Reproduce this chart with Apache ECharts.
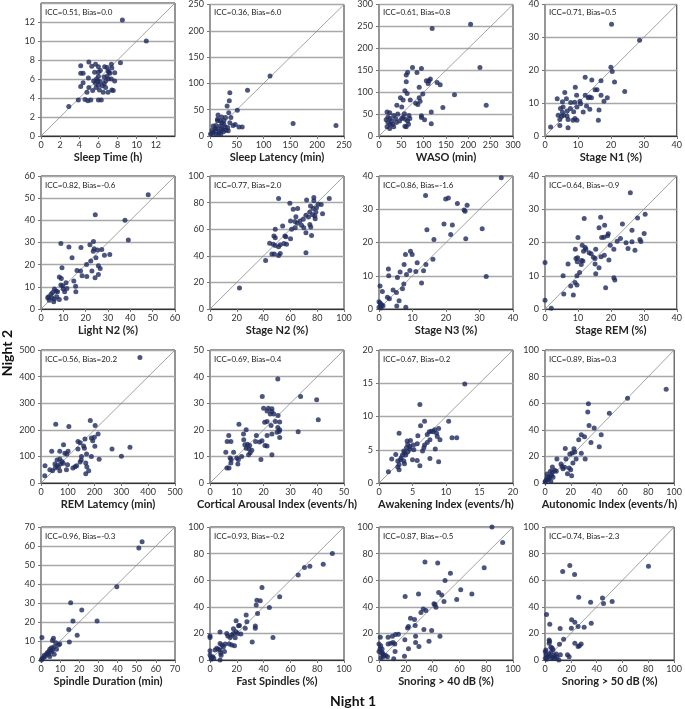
<!DOCTYPE html>
<html>
<head>
<meta charset="utf-8">
<script src="https://cdn.jsdelivr.net/npm/echarts@6/dist/echarts.min.js"></script>
<style>
  html, body { margin: 0; padding: 0; background: #fff; }
  #main { width: 685px; height: 709px; }
</style>
</head>
<body>
<div id="main"></div>
<script>
// night 1 vs night 2, one array of [x, y] per panel
var sleepTime = [[8.5,12.2],[11,10],[2.9,3.1],[3.9,3.8],[4.15,7.4],[4.15,6.6],[4.4,6.6],[4.15,5.2],[4.4,5.6],[4.6,3.85],[4.9,3.7],[5,7.8],[4.95,6.1],[5,5.1],[4.8,4.6],[5.2,3.8],[5.4,4.8],[5.3,7.35],[5.7,7.55],[5.6,6.7],[5.8,6],[5.5,5.8],[5.7,5.55],[5.75,5.1],[6,7.3],[6,6.75],[6,6.3],[5.95,5.8],[6,5.35],[6.2,5.7],[6,3.8],[6.3,3.8],[6.2,6.9],[6.1,4.85],[6.5,4.6],[6.4,5.3],[6.6,5.5],[6.75,5.1],[6.65,7.3],[6.9,7.2],[7,6.85],[7.1,6.7],[6.9,6.3],[7.05,6],[7.35,6],[7.2,6.6],[7.4,7.15],[7.35,7.55],[7.4,4.85],[7,4.6],[7.55,4.8],[7.7,6.65],[7.7,5.8],[8.3,7.7],[6.75,5.8],[6.6,6.2]];
var sleepLatency = [[112,114],[70,87],[37,82],[36,67],[32,57],[51,49],[35,44],[155,24],[235,20],[15,40],[14,32],[22,36],[29,35],[39,35],[37,25],[47,22],[43,20],[54,17],[60,17],[33,16],[30,11],[26,22],[22,25],[19,19],[11,20],[6,19],[4,11],[7.5,8],[12,14],[17,9],[21,14],[25,8],[1,4],[5,5],[11,3],[16,5],[20,4],[24,12],[28,17],[34,10],[19,29],[26,29],[14,29],[10,14]];
var waso = [[119,245],[205,255],[226,156],[240,70],[169,94],[143,65],[117,55],[117,28],[75,156],[64,145],[61,139],[85,145],[95,154],[106,126],[112,126],[115,130],[110,120],[130,122],[137,117],[90,111],[61,124],[58,103],[63,97],[48,87],[54,82],[70,82],[90,87],[92,79],[98,96],[82,75],[87,72],[51,66],[40,70],[57,51],[54,43],[67,47],[59,38],[64,34],[69,40],[66,27],[61,21],[58,22],[95,46],[95,42],[102,37],[18,55],[24,53],[20,43],[16,37],[25,40],[33,47],[37,40],[42,50],[46,34],[39,31],[25,27],[18,21],[24,17],[33,21],[30,27],[51,40],[20,31],[28,34]];
var stageN1 = [[20.2,34],[28.7,29.1],[20,20.9],[20.4,19.6],[12.2,17.9],[14.2,17],[21.1,16.4],[9.2,14.8],[6,13.2],[24.2,13.5],[15.2,14.1],[15.8,14.1],[17,16.8],[17,12.4],[3.7,11.3],[6.5,11.3],[5.3,10.4],[7.8,10.2],[9,10.3],[9.6,12.4],[10.6,10.6],[10.8,9.8],[12.2,12.4],[13.1,11.6],[13.5,11.9],[14.1,11.6],[17.9,10.6],[18.9,11.6],[11.6,7.3],[12.6,9.1],[13.6,8.1],[9.7,8.8],[7.7,8.4],[8.7,7.4],[6.7,7.6],[5.5,8.8],[4.7,8.4],[4,6.3],[5,6],[5.7,6.3],[6.7,6.1],[4.5,5],[7,5],[8.5,4.8],[9.7,4.8],[9.1,5.3],[16.4,7.9],[16.2,4.8],[4.5,3.2],[7,2.5],[1.7,2.7],[5.3,7.2]];
var lightN2 = [[48,51.5],[24.3,42.5],[37.6,40],[39.1,31.1],[30.8,24.6],[28.4,24.3],[27.2,26.8],[25.3,26.6],[23.8,27.2],[23.5,30.5],[21.9,29],[23.4,26.1],[24.6,23.1],[22.3,21.6],[20.4,20.1],[25.7,19.5],[26.5,18.3],[22.8,17.1],[17.7,17.1],[16.1,17.4],[18.4,15],[20.5,14.7],[25.7,15.6],[24.2,14.1],[8.9,29.5],[12.5,28],[17.9,27.7],[13.9,23.1],[9.4,18.6],[8.2,14.4],[9.1,13.8],[11.2,11.8],[14.7,12.6],[15.5,10.3],[15.6,7.8],[11.6,9.3],[8.9,10.8],[9.7,10.5],[10.6,7.8],[11.2,4.8],[8.2,4.3],[6,9],[6.7,8.1],[5.2,7.5],[7.4,7.8],[4.5,6.6],[3.4,5.5],[3,5.1],[4.8,5.1],[6,4.5],[5.7,3.3],[3.7,4],[7.1,5.5],[10,9]];
var stageN2 = [[22,15.8],[41.5,36.5],[44.5,49.5],[47.2,48.6],[48.7,47.8],[46.2,41.3],[48,41.3],[51.2,40.3],[52.4,41.8],[51.2,46.8],[48.7,53.6],[48.7,59.9],[47.7,54.8],[51.2,83],[54.2,62.4],[52.4,48.3],[55.2,49.3],[56.6,54.3],[57.1,48.6],[55.9,54.8],[59.6,79.5],[60.1,66.2],[60.9,59.9],[60.1,52.8],[62.1,75],[63.4,65.7],[63.6,61.1],[65.2,64.4],[64.1,69.4],[65.4,75.5],[67.1,66.2],[68.3,62.9],[69.6,67.4],[70,61.1],[71.6,57.4],[71.6,70.4],[72.1,82],[71.6,42.3],[73.5,69.2],[74.5,73],[74.5,63.6],[75.2,61.6],[75.8,55.3],[76.5,70.9],[77,75.5],[77.5,81.3],[77.5,83.8],[78.5,67.9],[79,73],[79.5,76.2],[80.7,78.7],[89,83],[84,71.7],[83,78.5],[78.3,69.9],[75,77.5]];
var stageN3 = [[36.5,39.5],[13.9,34.1],[19.9,33.1],[20.7,33.4],[23.4,31.7],[26.3,31.2],[25.4,29.8],[25.7,29.4],[14.3,23.8],[19.4,25.6],[21.9,25.3],[21.4,22.4],[16.4,20.9],[25.9,21.1],[30.8,24.1],[32,9.8],[16.1,15],[9.4,17.4],[7.9,16.4],[9.9,16.4],[7.5,13.4],[6.3,11.1],[11.4,13.9],[14,13.4],[9.2,11.6],[8.2,10.4],[11,11.3],[13.3,11.5],[5.5,9.5],[2.8,12],[2.9,10],[7.4,7.5],[7,6.1],[4.2,5.7],[5.2,5],[12.7,7.8],[0.3,6.9],[1,5.3],[2.5,3.5],[3.1,3.1],[6,2.5],[5.3,0.9],[8,0.5],[0,2.2],[0.4,1.7],[0.8,1.3],[1.2,1],[0,0.5],[0.6,0.3]];
var stageREM = [[25.9,35],[0,14],[0,2.6],[1.9,0.2],[5.5,10],[5.7,4.5],[7,13.5],[7.8,6.9],[8.6,4.2],[9.1,8],[9.2,18],[9.4,15.2],[9.8,14.2],[10,21.5],[9.7,10],[9.9,15.4],[9.7,7.2],[10.5,11],[11,13.4],[11.1,14.6],[11.3,19.2],[11.5,14.4],[11.7,17.4],[11.9,27.2],[12.2,18.5],[12.4,18],[13.4,16.9],[14,16.6],[14.7,15.6],[15.2,15.2],[15.4,18],[15.2,13.5],[15.4,10.6],[16.4,12.4],[16.4,24.4],[16.9,27.6],[17.2,21.5],[17,15.7],[17.9,21.6],[18.1,25.2],[18,16.2],[18.4,6.4],[19,22],[19.2,22.6],[19.4,14.7],[19.8,19.2],[20.9,18],[20.9,9.4],[21.2,8.7],[21.9,20.4],[22.9,21.2],[23.5,25.6],[24.6,19.9],[25.2,18.2],[26.4,23.7],[26.4,20.2],[27.3,17.7],[28.1,27.4],[28.8,20.9],[29.1,20.3],[30.1,22.7],[30.4,28.5]];
var remLatency = [[369,472],[332,134],[300,101],[265,128],[213,184],[217,89],[202,216],[184,235],[188,169],[193,159],[199,172],[201,138],[188,100],[164,165],[162,131],[170,109],[167,75],[171,61],[178,46],[167,35],[159,139],[151,100],[146,151],[138,156],[138,128],[150,86],[146,79],[133,65],[127,61],[119,56],[104,212],[101,119],[89,112],[96,109],[99,69],[95,50],[73,71],[84,144],[70,119],[70,90],[78,81],[70,46],[60,66],[53,56],[55,221],[40,119],[33,50],[43,46],[52,71],[60,86],[15,65],[14,27],[65,59],[83,74]];
var corticalArousal = [[25.3,39.1],[19.5,32.5],[33.8,32.5],[39.8,31.3],[40.4,23.8],[32.9,19.3],[23.1,10.6],[19,8.8],[10.8,22.1],[20,28.1],[21.3,27.1],[21.8,28.1],[23.1,26.9],[23.1,27.9],[22.5,25.9],[23.8,25.9],[25.4,25.4],[20.4,22.8],[21.3,23.1],[22.8,21.6],[24.4,23.1],[26,22.9],[25.3,20.9],[26,20],[25.8,19.4],[25,19.1],[23.1,18.4],[21.3,17.9],[26,17.1],[17.3,17.9],[17,15.6],[18.5,15.4],[19.4,15.9],[21.3,13.9],[20.5,14.1],[13.5,20],[12.5,18.4],[12.6,16.3],[13,14.4],[14,14.6],[14.8,14.1],[13.5,13.1],[14.5,12.9],[15.6,12.3],[15,11.4],[14.4,10.6],[10,9.4],[10.6,8.8],[10.4,7.1],[11.8,10],[7,17.9],[6.4,15.6],[7.8,15.6],[5.9,11.6],[8.8,11.6],[7.5,9.4],[7.9,8.8],[7.8,7.5],[6.3,5.6],[7.1,5.6]];
var awakening = [[12.8,14.9],[6.1,11.8],[10.4,9.3],[6.8,9.3],[6.2,8.6],[3,7.5],[10.9,6.8],[11.6,6.8],[8.9,8.2],[8.3,8],[7.8,7.8],[7.5,7.7],[8.1,7.7],[7.2,7.3],[8.6,7.5],[8.7,7],[9.1,6.5],[7.6,6.5],[7.2,6.1],[6.8,5.7],[6.7,5.3],[6.5,4.8],[8.4,5.1],[8.9,3.2],[7.6,3.7],[6.1,2.6],[5.7,3.4],[5.7,5.9],[5.8,7.1],[5,3.5],[5.1,5.7],[4.7,6.4],[4.6,5.5],[4.6,5.1],[4.2,6.3],[4.3,5.8],[4.1,5.3],[4.3,4.7],[3.8,4.5],[3.7,4.8],[3.5,4.2],[4,4.2],[3.3,3.8],[3.7,3.3],[3.8,2.9],[3.2,3.5],[2.8,3.3],[3,2.8],[2.8,2.4],[3,2],[2.5,4.3],[1.9,3.6],[1.4,1.7],[5.2,5]];
var autonomic = [[93.8,70.5],[63.9,63.8],[49.8,52.5],[33.6,59.5],[33.1,53.3],[34.1,43.3],[38.1,41.3],[43.5,36.3],[35.6,30.5],[42,27.3],[28.1,36.3],[26.1,32.5],[30.6,34.8],[31.1,18],[28.1,22.3],[15.7,26],[22.4,25.8],[23.1,23.3],[24.1,18],[19.2,21.8],[21.1,22.5],[21.6,15],[18.7,11.3],[19.9,10],[17.4,7],[20.6,5.5],[16.2,18],[15.2,11.8],[12.4,14.3],[13.2,12.5],[13.9,10.8],[9.2,18],[7.5,9.5],[5.7,8.3],[5.7,12],[4.2,8.8],[5.2,5.8],[3.2,3.8],[1.7,6.8],[1.7,4.3],[1.2,2.5],[0.2,1.3],[2.7,2.5],[4.5,1.3],[6.2,4.3],[0.2,0.8],[3.7,5],[8.7,8.8]];
var spindleDuration = [[52.8,62.2],[51.1,59],[39.6,38.5],[29.3,20.5],[21.3,26.3],[16.7,20.5],[15.5,30.1],[14.5,16.1],[18.9,13],[14.8,9.5],[0.5,11.9],[6.5,11.4],[6,10.2],[7.7,9.1],[9.1,7.9],[9.8,8.4],[6.9,7],[5.5,6.5],[8.1,5.6],[4.6,5.6],[6.9,3],[4.6,1.8],[3.4,3.9],[2.9,3.2],[2.2,1.8],[1.2,1.2],[0.5,0.7],[0.2,0],[1.7,2.5],[4,3],[5.5,4.4],[6,5.3],[4.3,4.6]];
var fastSpindles = [[91.3,80],[84.5,72],[74.5,70.5],[70.5,69.5],[65.8,64],[52,47.5],[44.3,39.5],[47,17],[38.8,54.5],[35,45],[37.5,44.5],[34.5,41.3],[35.5,35],[27,33.8],[27.5,28.8],[26.3,23.8],[33.8,25.5],[33.8,23.8],[31.5,13.5],[19.5,29.5],[21.3,25.8],[22,26],[17.5,23.5],[17.5,20],[19.5,21.3],[20.5,20],[23,19.5],[12.5,20],[13.3,18],[15,17],[16.3,18.8],[18.8,16.8],[7.5,21],[14.5,12],[16.3,11.3],[18.3,10.8],[11.3,12],[10,10],[7.5,12.5],[8.8,11.3],[5,8.8],[6.3,8],[3.8,7.5],[7.5,7.5],[8,5],[8.3,3.5],[10.8,6.3],[0,18],[0,17],[0,7],[0,3.8],[0.8,2],[2,2.5],[2.8,1.3],[7.5,0],[1,0.5]];
var snoring40 = [[84.3,100],[92.3,88.4],[78.5,69.3],[69.3,49.7],[61,52.8],[58,45.5],[53.3,65.3],[49.3,59.8],[48.5,44],[46.8,48.9],[44.5,50.8],[43.8,72.9],[34.3,73.6],[42.5,39.7],[41,42.2],[41.8,41.7],[35,37.2],[33,38.4],[31.3,35.7],[29.5,49.7],[19.5,47.7],[26.5,30.4],[23.5,31.4],[27,25.9],[22,25.1],[21.3,24.1],[19.3,15.3],[33.5,22.9],[39.3,22.1],[45.5,17.8],[27.3,17.8],[37.3,14.1],[27.3,13.1],[29.8,10.1],[22,8.5],[19,2.8],[14.5,19.3],[12.3,19.1],[10,17.8],[10.5,13.1],[11.8,12.1],[8.8,12.6],[6.8,12.1],[6.8,17.1],[1,17.1],[1.3,10.8],[0,12.1],[0,6.3],[0.8,8.5],[2.3,8.3],[2,5],[3.5,4],[3,2.5],[5,3.3],[6.3,2.5],[1.5,1.5],[11,1],[12,6.3],[2.5,5.5]];
var snoring50 = [[80.1,70.4],[19.2,71.1],[13.7,66.6],[22.9,64.3],[26.1,47.2],[35.3,43.5],[44.5,46.7],[45.3,42.5],[52,44],[35.8,27.6],[20.6,30.2],[23.1,28.4],[20.4,23.9],[11.7,23.6],[30.3,24.6],[25.6,25.1],[1.2,34.2],[3.7,26.9],[3.2,15.1],[3.5,14.1],[14.4,15.6],[11.2,11.8],[23.1,12.6],[28,12.1],[26.6,10.8],[25.6,10.1],[17.4,4],[18.7,2.5],[11.9,4],[3.2,12.6],[4.5,9.5],[5.5,9],[6.2,7.8],[8.7,4.5],[7.2,3.5],[6.2,2],[7.7,1.5],[9.2,2],[4.7,5.8],[3,4.5],[0.7,7.5],[0.2,6.3],[0.7,4],[1.7,2.5],[0.2,1.3],[1.2,0.5],[3.7,3],[10.7,0],[5,1.5]];

var panelData = [sleepTime, sleepLatency, waso, stageN1, lightN2, stageN2, stageN3, stageREM,
  remLatency, corticalArousal, awakening, autonomic, spindleDuration, fastSpindles, snoring40, snoring50];
var axisNames = ['Sleep Time (h)', 'Sleep Latency (min)', 'WASO (min)', 'Stage N1 (%)',
  'Light N2 (%)', 'Stage N2 (%)', 'Stage N3 (%)', 'Stage REM (%)',
  'REM Latemcy (min)', 'Cortical Arousal Index (events/h)', 'Awakening Index (events/h)', 'Autonomic Index (events/h)',
  'Spindle Duration (min)', 'Fast Spindles (%)', 'Snoring > 40 dB (%)', 'Snoring > 50 dB (%)'];
var iccLabels = ['ICC=0.51, Bias=0.0', 'ICC=0.36, Bias=6.0', 'ICC=0.61, Bias=0.8', 'ICC=0.71, Bias=0.5',
  'ICC=0.82, Bias=-0.6', 'ICC=0.77, Bias=2.0', 'ICC=0.86, Bias=-1.6', 'ICC=0.64, Bias=-0.9',
  'ICC=0.56, Bias=20.2', 'ICC=0.69, Bias=0.4', 'ICC=0.67, Bias=0.2', 'ICC=0.89, Bias=0.3',
  'ICC=0.96, Bias=-0.3', 'ICC=0.93, Bias=-0.2', 'ICC=0.87, Bias=-0.5', 'ICC=0.74, Bias=-2.3'];
var axisMax = [14, 250, 300, 40, 60, 100, 40, 40, 500, 50, 20, 100, 70, 100, 100, 100];
var axisStep = [2, 50, 50, 10, 10, 20, 10, 10, 100, 10, 5, 20, 10, 20, 20, 20];

var colLeft = [41, 210, 379, 545];
var rowTop = [3, 176, 350, 527];
var FONT = 'Lato, "Open Sans", sans-serif';

var chart = echarts.init(document.getElementById('main'), null, { renderer: 'canvas' });

var grids = [], xAxes = [], yAxes = [], series = [], titles = [];
for (var i = 0; i < 16; i++) {
  var r = Math.floor(i / 4), c = i % 4;
  var hideMax = (i === 0); // first panel shows ticks only to 12
  grids.push({
    left: colLeft[c], top: rowTop[r], width: 134, height: 133,
    show: true, borderColor: '#2a2a2a', borderWidth: 1, backgroundColor: '#fff'
  });
  xAxes.push({
    gridIndex: i, type: 'value', min: 0, max: axisMax[i], interval: axisStep[i],
    name: axisNames[i], nameLocation: 'middle', nameGap: 16,
    nameTextStyle: { fontFamily: FONT, fontWeight: 'bold', fontSize: 11, color: '#222' },
    axisLine: { show: true, onZero: false, lineStyle: { color: '#333', width: 1 } },
    axisTick: { show: true, length: 3, lineStyle: { color: '#777' } },
    axisLabel: { fontFamily: FONT, fontSize: 9, color: '#333', margin: 5, showMaxLabel: !hideMax },
    splitLine: { show: false }
  });
  yAxes.push({
    gridIndex: i, type: 'value', min: 0, max: axisMax[i], interval: axisStep[i],
    axisLine: { show: true, onZero: false, lineStyle: { color: '#999', width: 1 } },
    axisTick: { show: true, length: 3, lineStyle: { color: '#777' } },
    axisLabel: { fontFamily: FONT, fontSize: 9, color: '#333', margin: 6, showMaxLabel: !hideMax },
    splitLine: { show: true, lineStyle: { color: '#a8a8a8', width: 1.4 } }
  });
  // identity line
  series.push({
    type: 'line', xAxisIndex: i, yAxisIndex: i, silent: true, symbol: 'none',
    data: [[0, 0], [axisMax[i], axisMax[i]]],
    lineStyle: { color: '#8a8a8a', width: 0.8 }, z: 2
  });
  series.push({
    type: 'scatter', xAxisIndex: i, yAxisIndex: i, data: panelData[i],
    symbolSize: 5, itemStyle: { color: '#1f2b5e' }, z: 3
  });
  titles.push({
    text: iccLabels[i], left: colLeft[c] + 4, top: rowTop[r] + 5, padding: 0,
    textStyle: { fontFamily: FONT, fontSize: 8, fontWeight: 'normal', color: '#222' }
  });
}

var option = {
  animation: false,
  backgroundColor: '#fff',
  title: titles,
  grid: grids,
  xAxis: xAxes,
  yAxis: yAxes,
  series: series,
  graphic: [
    {
      type: 'text', left: 0, top: 330, rotation: Math.PI / 2,
      style: { text: 'Night 2', font: 'bold 14px ' + FONT, fill: '#111' }
    },
    {
      type: 'text', left: 330, top: 694,
      style: { text: 'Night 1', font: 'bold 14px ' + FONT, fill: '#111' }
    }
  ]
};

chart.setOption(option);
</script>
</body>
</html>
